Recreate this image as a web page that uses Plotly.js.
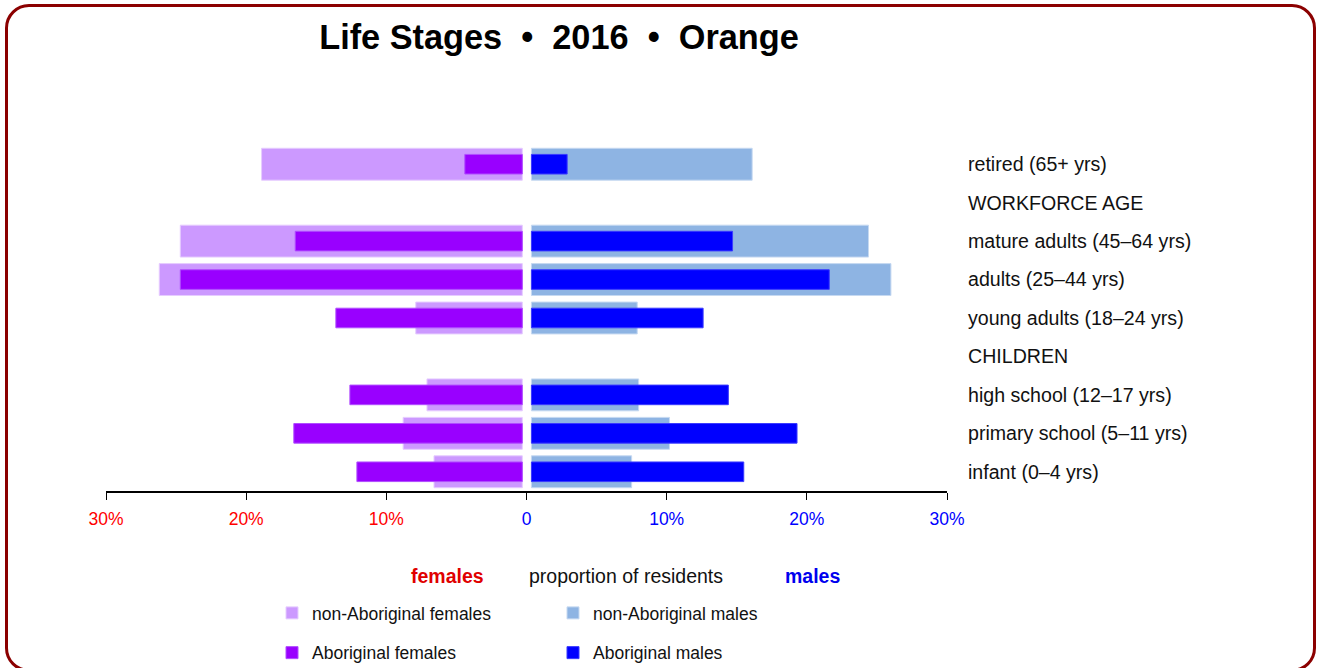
<!DOCTYPE html>
<html>
<head>
<meta charset="utf-8">
<script src="https://cdn.plot.ly/plotly-3.0.1.min.js"></script>
<style>
  body { margin: 0; background: #fff; overflow: hidden; }
  #plot { position: absolute; left: 0; top: 0; width: 1320px; height: 668px; }
  #frame {
    position: absolute; left: 5px; top: 4px; width: 1305px; height: 662px;
    border: 3px solid #8b0000; border-radius: 24px; pointer-events: none;
  }
</style>
</head>
<body>
<div id="plot"></div>
<div id="frame"></div>
<script>
// life stage rows, bottom to top (header rows have no bars)
let stages = ['infant (0–4 yrs)', 'primary school (5–11 yrs)', 'high school (12–17 yrs)', 'CHILDREN',
    'young adults (18–24 yrs)', 'adults (25–44 yrs)', 'mature adults (45–64 yrs)', 'WORKFORCE AGE', 'retired (65+ yrs)'];

// percent of residents in each group
let nonAbFemales = [6.6, 8.8, 7.1, null, 7.9, 26.2, 24.7, null, 18.9];
let abFemales = [12.1, 16.6, 12.6, null, 13.6, 24.7, 16.5, null, 4.4];
let nonAbMales = [7.5, 10.2, 8.0, null, 7.9, 26.0, 24.4, null, 16.1];
let abMales = [15.5, 19.3, 14.4, null, 12.6, 21.6, 14.7, null, 2.9];

let tickVals = [-30, -20, -10, 0, 10, 20, 30];
let tickLabels = ['30%', '20%', '10%', '0', '10%', '20%', '30%'];

// small white gap either side of zero
let gapL = 0.3, gapR = 0.35;
let font = 'Liberation Sans, Arial, sans-serif';

function leftBar(vals) {
    return vals.map(v => v == null ? null : -(v - gapL));
}
function rightBar(vals) {
    return vals.map(v => v == null ? null : v - gapR);
}

function makeTrace(name, vals, side, color, lineColor, width, legend) {
    return {
        type: 'bar',
        orientation: 'h',
        name: name,
        y: stages,
        x: side === 'left' ? leftBar(vals) : rightBar(vals),
        base: side === 'left' ? -gapL : gapR,
        width: width,
        opacity: 1,
        marker: { color: color, line: { color: lineColor, width: 1 } },
        legend: legend,
        legendgroup: name,
        hoverinfo: 'skip'
    };
}

let traces = [
    makeTrace('non-Aboriginal females', nonAbFemales, 'left', '#cc99ff', '#e6ccff', 0.83, 'legend'),
    makeTrace('non-Aboriginal males', nonAbMales, 'right', '#8eb4e3', '#c6d9f1', 0.83, 'legend2'),
    makeTrace('Aboriginal females', abFemales, 'left', '#9900ff', '#b04dff', 0.51, 'legend'),
    makeTrace('Aboriginal males', abMales, 'right', '#0000ff', '#3a3aff', 0.51, 'legend2')
];

let tickText = tickLabels.map((t, i) =>
    '<span style="color:' + (tickVals[i] < 0 ? '#ff0000' : '#0000ff') + '">' + t + '</span>');

let legendBase = {
    orientation: 'v',
    xref: 'container', yref: 'container',
    xanchor: 'left', yanchor: 'top',
    y: 1 - 595 / 668,
    traceorder: 'grouped',
    tracegroupgap: 14,
    font: { family: font, size: 17.5, color: '#111' },
    bgcolor: 'rgba(0,0,0,0)',
    borderwidth: 0
};

let layout = {
    width: 1320,
    height: 668,
    margin: { l: 106, r: 373, t: 145, b: 177, autoexpand: false },
    paper_bgcolor: '#ffffff',
    plot_bgcolor: '#ffffff',
    barmode: 'overlay',
    showlegend: true,
    title: {
        text: '<b>Life Stages\u00a0\u00a0•\u00a0\u00a02016\u00a0\u00a0•\u00a0\u00a0Orange</b>',
        font: { family: font, size: 34.3, color: '#000' },
        xref: 'container', yref: 'container',
        x: 559 / 1320, xanchor: 'center',
        y: 1 - 37 / 668, yanchor: 'middle'
    },
    xaxis: {
        range: [-30, 30],
        tickvals: tickVals,
        ticktext: tickText,
        tickangle: 0,
        ticks: 'outside',
        ticklen: 7,
        tickwidth: 1,
        tickcolor: '#000',
        showline: true,
        linecolor: '#000',
        linewidth: 1.5,
        showgrid: false,
        zeroline: false,
        fixedrange: true,
        automargin: false,
        ticklabelstandoff: 4,
        tickfont: { family: font, size: 17.5 }
    },
    yaxis: {
        type: 'category',
        categoryorder: 'array',
        categoryarray: stages,
        range: [-0.5, 8.5],
        side: 'right',
        ticks: '',
        showline: false,
        showgrid: false,
        zeroline: false,
        fixedrange: true,
        automargin: false,
        ticklabelstandoff: 20,
        tickfont: { family: font, size: 19.6, color: '#111' }
    },
    legend: Object.assign({}, legendBase, { x: 272 / 1320 }),
    legend2: Object.assign({}, legendBase, { x: 553 / 1320 }),
    annotations: [
        { text: '<b>females</b>', xref: 'paper', yref: 'paper', x: 0.406, y: -0.2455,
          showarrow: false, xanchor: 'center', yanchor: 'middle',
          font: { family: font, size: 19.5, color: '#e00000' } },
        { text: 'proportion of residents', xref: 'paper', yref: 'paper', x: 0.618, y: -0.2455,
          showarrow: false, xanchor: 'center', yanchor: 'middle',
          font: { family: font, size: 19.5, color: '#111' } },
        { text: '<b>males</b>', xref: 'paper', yref: 'paper', x: 0.8395, y: -0.2455,
          showarrow: false, xanchor: 'center', yanchor: 'middle',
          font: { family: font, size: 19.5, color: '#0000ee' } }
    ]
};

Plotly.newPlot('plot', traces, layout, { displayModeBar: false, staticPlot: true });
</script>
</body>
</html>
